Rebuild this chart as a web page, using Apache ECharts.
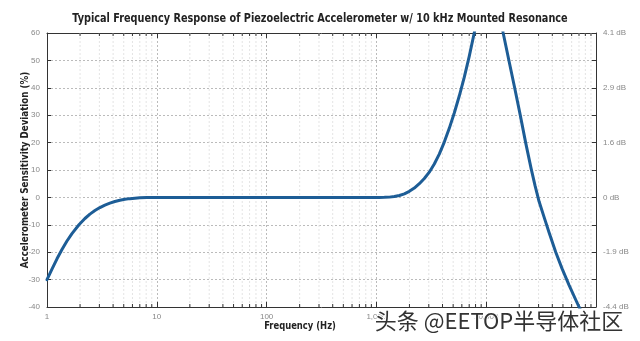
<!DOCTYPE html>
<html>
<head>
<meta charset="utf-8">
<script src="https://cdn.jsdelivr.net/npm/echarts@6/dist/echarts.min.js"></script>
<style>html,body{margin:0;padding:0;background:#fff}#c{width:640px;height:341px}</style>
</head>
<body>
<div id="c"></div>
<script>
// ---- data ----
const freqHz = [
  1, 1.11, 1.233, 1.369, 1.52, 1.688, 1.954, 2.215, 2.46, 2.732, 3.032, 3.367, 3.738, 4.152, 4.61, 5.119, 5.683, 6.31, 7.006, 8.111, 9.59, 10.65,
  100, 1065, 1182, 1313, 1457, 1619, 1797, 1995, 2215, 2460, 2732, 3032, 3367, 3738, 4152, 4610, 5119, 5683, 6310, 7006, 7780, 8638,
  10000, 11822, 13130, 14275, 16190, 18160, 20380, 22870, 25660, 27890, 30320, 33670, 37380, 43010, 49090, 56830, 70060, 77800
];
const deviationPct = [
  -30, -26.2, -22.4, -19.0, -15.9, -13.2, -10, -7.7, -6.1, -4.8, -3.7, -2.8, -2.1, -1.5, -1.05, -0.7, -0.45, -0.27, -0.15, -0.06, -0.01, 0,
  0, 0, 0.02, 0.1, 0.3, 0.7, 1.3, 2.2, 3.4, 5, 6.9, 9.2, 12.2, 15.8, 20.2, 25.2, 30.8, 37, 43.8, 51.5, 60, 69,
  95, 80, 70, 60, 49.5, 40, 30.2, 20, 10.5, 4.2, -1.5, -7.2, -12.8, -20, -26, -32, -40, -43.6
];
const rightTickValues = [60, 40, 20, 0, -20, -40];
const rightTickLabels = ['4.1 dB', '2.9 dB', '1.6 dB', '0 dB', '-1.9 dB', '-4.4 dB'];
const decades = [1, 10, 100, 1000, 10000];
const minorMultipliers = [2, 3, 4, 5, 6, 7, 8, 9];

const titleText = 'Typical Frequency Response of Piezoelectric Accelerometer w/ 10 kHz Mounted Resonance';
const xName = 'Frequency (Hz)';
const yName = 'Accelerometer Sensitivity Deviation (%)';
const watermark = '头条 @EETOP半导体社区';

const minorVals = [];
decades.forEach(d => minorMultipliers.forEach(m => minorVals.push(d * m)));

const boldFont = '"DejaVu Sans Condensed","Liberation Sans",sans-serif';
const labelFont = 'Arial,"Liberation Sans",sans-serif';
const lineData = freqHz.map((f, i) => [f, deviationPct[i]]);

const chart = echarts.init(document.getElementById('c'), null, {renderer: 'canvas'});
chart.setOption({
  animation: false,
  backgroundColor: '#fff',
  grid: {left: 47, right: 44, top: 33, bottom: 34, show: false},
  xAxis: [{
    type: 'log', logBase: 10, min: 1, max: 100000, position: 'bottom',
    axisLine: {show: true, onZero: false, lineStyle: {color: '#333', width: 1}},
    axisTick: {show: true, inside: true, length: 5, lineStyle: {color: '#333'}},
    axisLabel: {
      color: '#888', fontSize: 8, fontFamily: labelFont, margin: 6,
      formatter: v => { const r = Math.round(v); return r >= 100000 ? '' : r.toLocaleString('en-US'); }
    },
    splitLine: {show: true, lineStyle: {color: '#bbb', type: [2, 2], width: 1}}
  }, {
    type: 'log', logBase: 10, min: 1, max: 100000, position: 'top',
    axisLine: {show: true, onZero: false, lineStyle: {color: '#333', width: 1}},
    axisTick: {show: true, inside: true, length: 5, lineStyle: {color: '#333'}},
    axisLabel: {show: false}, splitLine: {show: false}
  }],
  yAxis: [{
    type: 'value', min: -40, max: 60, interval: 10, position: 'left',
    axisLine: {show: true, onZero: false, lineStyle: {color: '#333', width: 1}},
    axisTick: {show: true, inside: true, length: 4, lineStyle: {color: '#333'}},
    axisLabel: {color: '#888', fontSize: 8, fontFamily: labelFont, margin: 7},
    splitLine: {show: true, lineStyle: {color: '#bbb', type: [2, 2], width: 1}}
  }, {
    type: 'value', min: -40, max: 60, interval: 10, position: 'right',
    axisLine: {show: true, onZero: false, lineStyle: {color: '#333', width: 1}},
    axisTick: {show: true, inside: true, length: 4, lineStyle: {color: '#333'}},
    axisLabel: {
      color: '#888', fontSize: 8, fontFamily: labelFont, margin: 7,
      formatter: v => { const k = rightTickValues.indexOf(Math.round(v)); return k >= 0 ? rightTickLabels[k] : ''; }
    },
    splitLine: {show: false}
  }],
  series: [{
    type: 'custom', xAxisIndex: 0, yAxisIndex: 0, silent: true, z: 1,
    data: minorVals.map(v => [v]),
    renderItem: (params, api) => {
      const v = api.value(0);
      const b = api.coord([v, -40]);
      const t = api.coord([v, 60]);
      return {type: 'group', children: [
        {type: 'line', shape: {x1: b[0], y1: b[1], x2: t[0], y2: t[1]}, style: {stroke: '#e4e4e4', lineWidth: 1, lineDash: [2, 2]}},
        {type: 'line', shape: {x1: b[0], y1: b[1], x2: b[0], y2: b[1] - 3}, style: {stroke: '#333', lineWidth: 1}},
        {type: 'line', shape: {x1: t[0], y1: t[1], x2: t[0], y2: t[1] + 3}, style: {stroke: '#333', lineWidth: 1}}
      ]};
    }
  }, {
    type: 'line', xAxisIndex: 0, yAxisIndex: 0, data: lineData,
    showSymbol: false, smooth: false, clip: true, z: 3,
    lineStyle: {color: '#1d5d96', width: 3, join: 'round', cap: 'round'}
  }],
  graphic: [{
    type: 'text', x: 320, y: 19, scaleX: 0.83, z: 10,
    style: {text: titleText, font: 'bold 13px ' + boldFont, fill: '#222', align: 'center', verticalAlign: 'middle'}
  }, {
    type: 'text', x: 300, y: 326, scaleX: 0.85, z: 10,
    style: {text: xName, font: 'bold 11px ' + boldFont, fill: '#222', align: 'center', verticalAlign: 'middle'}
  }, {
    type: 'text', x: 25, y: 170, rotation: Math.PI / 2, scaleX: 0.88, z: 10,
    style: {text: yName, font: 'bold 11px ' + boldFont, fill: '#222', align: 'center', verticalAlign: 'middle'}
  }, {
    type: 'text', x: 499, y: 321, z: 20,
    style: {text: watermark, font: '22px "Noto Sans CJK SC",sans-serif', fill: '#333', stroke: '#fff', lineWidth: 2, align: 'center', verticalAlign: 'middle'}
  }]
});
</script>
</body>
</html>
